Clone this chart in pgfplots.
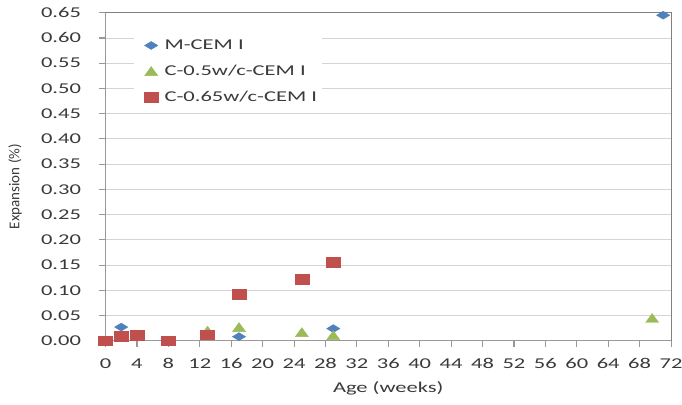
\documentclass[border=0pt]{standalone}
\usepackage{fontspec}
\setmainfont{Carlito}[FakeStretch=1.5]
\newfontfamily\plainfont{Carlito}
\usepackage{pgfplots}
\pgfplotsset{compat=1.18}
\definecolor{mblue}{HTML}{4F81BD}
\definecolor{mgreen}{HTML}{9BBB59}
\definecolor{mred}{HTML}{C0504D}
\definecolor{gridgray}{HTML}{D4D4D4}
\definecolor{axgray}{HTML}{999999}
\definecolor{boxgray}{HTML}{808080}
\definecolor{txt}{HTML}{3A3A3A}

\begin{document}
\begin{tikzpicture}
\useasboundingbox (-105.5pt,-63.3pt) rectangle (576.5pt,340.7pt);
\begin{axis}[
    scale only axis,
    width=565.5pt, height=328pt,
    at={(0,0)}, anchor=south west,
    xmin=0, xmax=72, ymin=0, ymax=0.65,
    xtick={0,4,...,72},
    ytick={0,0.05,0.10,0.15,0.20,0.25,0.30,0.35,0.40,0.45,0.50,0.55,0.60,0.65},
    yticklabel style={/pgf/number format/.cd, fixed, fixed zerofill, precision=2,
        /tikz/.cd, xshift=-15pt},
    xticklabel style={yshift=-8.5pt},
    /pgf/number format/assume math mode=true,
    ymajorgrids,
    grid style={color=gridgray, line width=0.8pt},
    axis x line*=bottom, axis y line*=left,
    axis line style={color=axgray, line width=0.8pt},
    tick align=outside,
    major tick length=6pt,
    every tick/.style={color=axgray, line width=1pt},
    ticklabel style={font=\fontsize{15}{18}\selectfont, text=txt},
    xlabel={Age (weeks)},
    xlabel style={at={(axis description cs:0.5,-0.1442)}, anchor=center,
        font=\fontsize{15}{18}\selectfont, text=txt},
    ylabel={\plainfont Expansion (\%)},
    ylabel style={at={(axis description cs:-0.16,0.47)}, anchor=center,
        font=\fontsize{15}{18}\selectfont, text=txt},
    clip=false,
    legend style={at={(0.05,0.93)}, anchor=north west, draw=none, fill=white,
        font=\fontsize{15}{18}\selectfont, text=txt, row sep=10pt,
        cells={anchor=west}},
    legend image code/.code={
        \path[draw=none, fill=none] (0cm,0cm) -- (0.9cm,0cm);
        \draw[#1] plot coordinates {(0.5cm,0cm)};},
]
\draw[color=boxgray, line width=0.8pt] (rel axis cs:0,1) -- (rel axis cs:1,1) -- (rel axis cs:1,0);
% tick marks outside the axes
\pgfplotsinvokeforeach{0,4,...,72}{
    \draw[color=axgray, line width=0.8pt] (axis cs:#1,0) -- ([yshift=-6pt]axis cs:#1,0);
}
\pgfplotsinvokeforeach{0,0.05,0.10,0.15,0.20,0.25,0.30,0.35,0.40,0.45,0.50,0.55,0.60,0.65}{
    \draw[color=axgray, line width=0.8pt] (axis cs:0,#1) -- ([xshift=-6pt]axis cs:0,#1);
}

% M-CEM I
\addplot[only marks, mark=diamond*, color=mblue, mark size=4pt,
    mark options={xscale=2.2}] coordinates {
    (2, 0.027) (17, 0.008) (29, 0.024) (71, 0.645)
};
\addlegendentry{M-CEM I}

% C-0.5w/c-CEM I
\addplot[only marks, mark=triangle*, color=mgreen, mark size=6pt,
    mark options={yshift=-1.5pt, xscale=1.25}] coordinates {
    (13, 0.020) (17, 0.027) (25, 0.017) (29, 0.011) (69.6, 0.045)
};
\addlegendentry{C-0.5w/c-CEM I}

% C-0.65w/c-CEM I
\addplot[only marks, mark=square*, color=mred, mark size=4.75pt,
    mark options={xscale=1.47}] coordinates {
    (0, 0.000) (2, 0.009) (4, 0.011) (8, 0.000) (13, 0.012)
    (17, 0.092) (25, 0.122) (29, 0.156)
};
\addlegendentry{C-0.65w/c-CEM I}
\end{axis}
\end{tikzpicture}
\end{document}
